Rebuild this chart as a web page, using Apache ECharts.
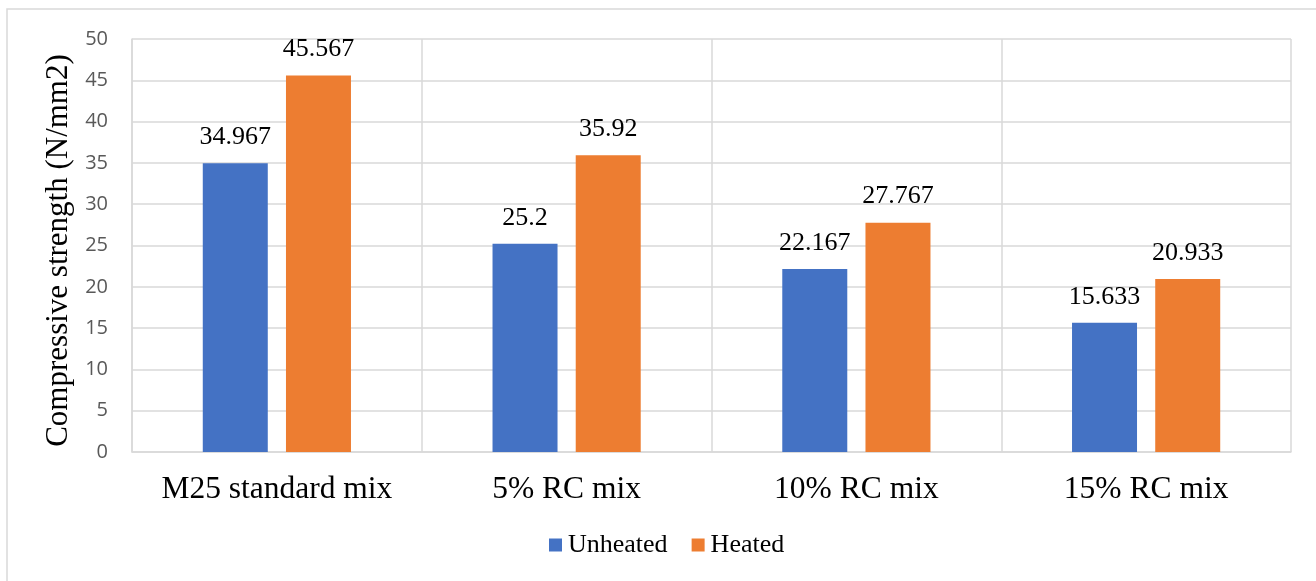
<!DOCTYPE html>
<html>
<head>
<meta charset="utf-8">
<style>
  html, body { margin: 0; padding: 0; background: #ffffff; }
  #chart { width: 1316px; height: 581px; }
</style>
<script src="https://cdn.jsdelivr.net/npm/echarts@6/dist/echarts.min.js"></script>
</head>
<body>
<div id="chart"></div>
<script>
const categories = ['M25 standard mix', '5% RC mix', '10% RC mix', '15% RC mix'];
const unheated = [34.967, 25.2, 22.167, 15.633];
const heated = [45.567, 35.92, 27.767, 20.933];
const seriesNames = ['Unheated', 'Heated'];
const yAxisTitle = 'Compressive strength (N/mm2)';

const chart = echarts.init(document.getElementById('chart'), null, { renderer: 'canvas' });

const serif = '"Liberation Serif", "Times New Roman", serif';
const sans = '"Open Sans", "Liberation Sans", sans-serif';
const gridColor = '#d9d9d9';

const labelStyle = {
  show: true,
  position: 'top',
  distance: 13,
  fontFamily: serif,
  fontSize: 26,
  color: '#000000'
};

chart.setOption({
  animation: false,
  graphic: [{
    type: 'rect',
    shape: { x: 7, y: 9, width: 1320, height: 590 },
    style: { fill: 'none', stroke: gridColor, lineWidth: 1.5 },
    silent: true,
    z: -1
  }],
  grid: { left: 132, right: 25, top: 39, bottom: 129, containLabel: false },
  legend: {
    data: seriesNames,
    top: 532,
    left: 549,
    itemWidth: 13,
    itemHeight: 13,
    itemGap: 24,
    icon: 'rect',
    padding: 0,
    textStyle: { fontFamily: serif, fontSize: 26, color: '#000000', padding: [0, 0, 0, 1] }
  },
  xAxis: {
    type: 'category',
    data: categories,
    boundaryGap: true,
    axisLine: { show: true, lineStyle: { color: gridColor, width: 1.5 } },
    axisTick: { show: false },
    axisLabel: { interval: 0, fontFamily: serif, fontSize: 31.5, color: '#000000', margin: 22 },
    splitLine: { show: true, interval: 0, lineStyle: { color: gridColor, width: 1.5 } }
  },
  yAxis: {
    type: 'value',
    min: 0,
    max: 50,
    interval: 5,
    name: yAxisTitle,
    nameLocation: 'middle',
    nameGap: 54,
    nameTextStyle: { fontFamily: serif, fontSize: 31, color: '#000000', padding: [0, 10, 0, 0] },
    axisLine: { show: true, lineStyle: { color: gridColor, width: 1.5 } },
    axisTick: { show: false },
    axisLabel: { fontFamily: sans, fontSize: 20, color: '#595959', margin: 24 },
    splitLine: { show: true, lineStyle: { color: gridColor, width: 1.5 } }
  },
  series: [
    {
      name: seriesNames[0],
      type: 'bar',
      data: unheated,
      barWidth: 65,
      barGap: '28%',
      itemStyle: { color: '#4472c4' },
      label: labelStyle
    },
    {
      name: seriesNames[1],
      type: 'bar',
      data: heated,
      barWidth: 65,
      barGap: '28%',
      itemStyle: { color: '#ed7d31' },
      label: labelStyle
    }
  ]
});
</script>
</body>
</html>
